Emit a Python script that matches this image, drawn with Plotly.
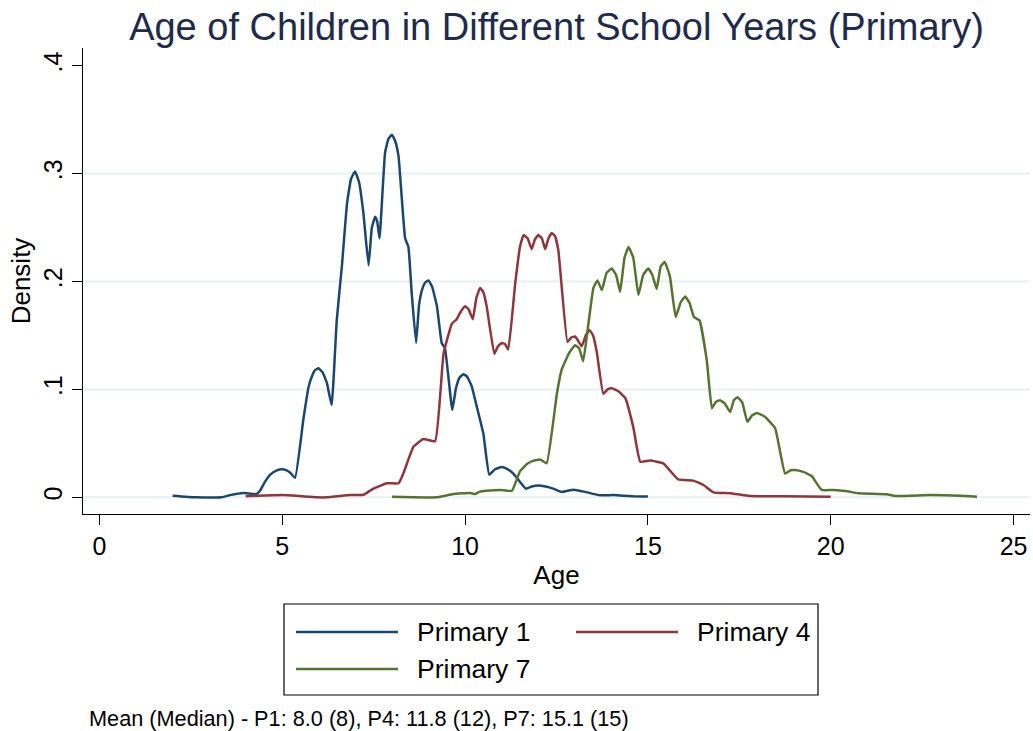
import plotly.graph_objects as go

# ---------------- data ----------------
series_names = ["Primary 1", "Primary 4", "Primary 7"]
series_colors = ["#1a476f", "#90353b", "#55752f"]

p1_age = [2.0, 2.62, 3.35, 3.57, 3.94, 4.30, 4.39, 4.53, 4.67, 4.85, 4.99, 5.12, 5.21, 5.35,
          5.58, 5.72, 5.81, 5.90, 5.99, 6.10, 6.22, 6.35, 6.49, 6.63, 6.77, 6.88, 6.99, 7.10,
          7.22, 7.36, 7.45, 7.54, 7.60, 7.66, 7.81, 7.90, 8.00, 8.09, 8.18, 8.36, 8.45, 8.54,
          8.66, 8.74, 8.82, 8.91, 9.00, 9.10, 9.23, 9.36, 9.45, 9.65, 9.75, 9.85, 9.95, 10.05,
          10.18, 10.32, 10.50, 10.66, 10.82, 11.0, 11.16, 11.32, 11.66, 11.82, 12.0, 12.2,
          12.41, 12.64, 12.96, 13.28, 13.65, 14.06, 14.6, 15.0]
p1_den = [0.0015, 0.0, 0.0, 0.002, 0.004, 0.003, 0.006, 0.0145, 0.021, 0.025, 0.026, 0.025, 0.023, 0.018,
          0.073, 0.1025, 0.112, 0.118, 0.1195, 0.116, 0.106, 0.0855, 0.164, 0.214, 0.272, 0.295, 0.302, 0.292,
          0.263, 0.215, 0.250, 0.260, 0.255, 0.240, 0.319, 0.332, 0.336, 0.330, 0.316, 0.240, 0.232, 0.189,
          0.143, 0.178, 0.192, 0.199, 0.201, 0.195, 0.177, 0.143, 0.138, 0.081, 0.101, 0.111, 0.114, 0.112,
          0.103, 0.084, 0.059, 0.021, 0.026, 0.028, 0.026, 0.022, 0.008, 0.010, 0.011, 0.010,
          0.008, 0.005, 0.007, 0.005, 0.002, 0.002, 0.001, 0.0008]

p4_age = [4.0, 5.03, 5.94, 6.22, 6.86, 7.22, 7.49, 7.86, 8.18, 8.31, 8.59, 8.86, 9.18, 9.41,
          9.64, 9.77, 9.88, 10.0, 10.1, 10.21, 10.31, 10.41, 10.50, 10.59, 10.80, 10.9, 11.0,
          11.09, 11.18, 11.37, 11.5, 11.6, 11.71, 11.82, 11.91, 12.0, 12.1, 12.19, 12.28, 12.37,
          12.46, 12.55, 12.80, 12.9, 13.01, 13.19, 13.3, 13.40, 13.50, 13.60, 13.78, 13.9, 14.01,
          14.2, 14.38, 14.6, 14.79, 15.06, 15.42, 15.83, 16.24, 16.52, 16.79, 17.25, 17.79,
          18.70, 20.0]
p4_den = [0.001, 0.002, 0.0, 0.0, 0.002, 0.0024, 0.008, 0.013, 0.013, 0.022, 0.047, 0.054, 0.052, 0.133,
          0.161, 0.165, 0.172, 0.177, 0.174, 0.165, 0.185, 0.194, 0.190, 0.177, 0.133, 0.140, 0.143,
          0.142, 0.137, 0.198, 0.232, 0.243, 0.240, 0.230, 0.239, 0.243, 0.240, 0.230, 0.240, 0.245,
          0.242, 0.229, 0.144, 0.148, 0.149, 0.140, 0.150, 0.155, 0.150, 0.135, 0.096, 0.100, 0.101,
          0.098, 0.092, 0.065, 0.033, 0.034, 0.0315, 0.0165, 0.0154, 0.0114, 0.0046, 0.0037, 0.0012,
          0.001, 0.0006]

p7_age = [8.0, 8.59, 9.23, 9.68, 10.14, 10.27, 10.39, 10.59, 10.96, 11.28, 11.5, 11.7, 11.87,
          12.05, 12.23, 12.51, 12.64, 12.85, 13.01, 13.12, 13.23, 13.37, 13.51, 13.62, 13.74,
          13.87, 14.01, 14.13, 14.24, 14.36, 14.47, 14.6, 14.74, 14.87, 15.01, 15.12, 15.24,
          15.35, 15.46, 15.6, 15.76, 15.9, 16.02, 16.14, 16.26, 16.41, 16.61, 16.75, 16.86,
          16.97, 17.1, 17.25, 17.35, 17.45, 17.58, 17.72, 17.85, 17.98, 18.2, 18.48, 18.75,
          18.9, 19.02, 19.25, 19.48, 19.75, 20.07, 20.46, 20.75, 21.53, 21.76, 22.72, 23.54, 24.0]
p7_den = [0.0006, 0.0, 0.0, 0.003, 0.004, 0.003, 0.005, 0.006, 0.0068, 0.006, 0.024, 0.031, 0.034,
          0.035, 0.0315, 0.096, 0.118, 0.134, 0.141, 0.138, 0.126, 0.160, 0.194, 0.201, 0.192,
          0.208, 0.212, 0.206, 0.1905, 0.222, 0.232, 0.222, 0.1875, 0.206, 0.212, 0.206, 0.193,
          0.214, 0.218, 0.205, 0.167, 0.181, 0.186, 0.180, 0.167, 0.164, 0.127, 0.0825, 0.0885,
          0.090, 0.087, 0.079, 0.090, 0.0927, 0.088, 0.070, 0.076, 0.078, 0.0747, 0.064, 0.022,
          0.0250, 0.0253, 0.0235, 0.0197, 0.0068, 0.0068, 0.0055, 0.0037, 0.0028, 0.0012, 0.002, 0.0015, 0.0006]

x_ticks = [0, 5, 10, 15, 20, 25]
y_ticks = [0, 0.1, 0.2, 0.3, 0.4]
y_tick_text = ["0", ".1", ".2", ".3", ".4"]
grid_values = [0, 0.1, 0.2, 0.3]

title_text = "Age of Children in Different School Years (Primary)"
note_text = "Mean (Median) - P1: 8.0 (8), P4: 11.8 (12), P7: 15.1 (15)"

# ---------------- figure ----------------
W, H = 1033, 731
ML, MR, MT, MB = 83, 3, 48, 217
PW, PH = W - ML - MR, H - MT - MB
FONT = "Liberation Sans, Arial, Helvetica, sans-serif"


def px_x(px):
    return (px - ML) / PW


def px_y(py):
    return (H - MB - py) / PH


fig = go.Figure()
for name, color, xs, ys in zip(series_names, series_colors,
                               [p1_age, p4_age, p7_age], [p1_den, p4_den, p7_den]):
    fig.add_trace(go.Scatter(x=xs, y=ys, mode="lines", name=name,
                             line=dict(color=color, width=2.5, shape="spline", smoothing=0.35),
                             showlegend=False))

shapes = []
for g in grid_values:
    shapes.append(dict(type="line", xref="paper", yref="y", x0=0, x1=1, y0=g, y1=g,
                       line=dict(color="#e9f0f3", width=2), layer="below"))

# custom legend (Stata style)
shapes.append(dict(type="rect", xref="paper", yref="paper",
                   x0=px_x(284), x1=px_x(818), y0=px_y(695), y1=px_y(604),
                   line=dict(color="black", width=1.2), fillcolor="white"))
legend_pos = [(296, 398, 415, 632), (576, 678, 695, 632), (296, 398, 415, 669)]
annotations = []
for name, color, (lx0, lx1, tx, ly) in zip(series_names, series_colors, legend_pos):
    shapes.append(dict(type="line", xref="paper", yref="paper",
                       x0=px_x(lx0), x1=px_x(lx1), y0=px_y(ly), y1=px_y(ly),
                       line=dict(color=color, width=2.5)))
    annotations.append(dict(text=name, xref="paper", yref="paper", x=px_x(tx), y=px_y(ly),
                            xanchor="left", yanchor="middle", showarrow=False,
                            font=dict(size=26.5, color="black", family=FONT)))

annotations.append(dict(text=note_text, xref="paper", yref="paper", x=px_x(87), y=px_y(718),
                        xanchor="left", yanchor="middle", showarrow=False,
                        font=dict(size=21.7, color="black", family=FONT)))

fig.update_layout(
    width=W, height=H,
    margin=dict(l=ML, r=MR, t=MT, b=MB, pad=0),
    paper_bgcolor="white", plot_bgcolor="white",
    font=dict(family=FONT, color="black"),
    title=dict(text=title_text, x=0.5, xref="paper", xanchor="center",
               y=1 - 27 / H, yref="container", yanchor="middle",
               font=dict(size=38, color="#1e2b4c", family=FONT)),
    xaxis=dict(range=[-0.45, 25.45], tickvals=x_ticks, ticks="outside", ticklen=10,
               tickwidth=1.3, tickcolor="black", showline=True, linecolor="black", linewidth=1.3,
               showgrid=False, zeroline=False, tickfont=dict(size=25, family=FONT),
               title=dict(text="Age", font=dict(size=26, family=FONT), standoff=6)),
    yaxis=dict(range=[-0.0155, 0.4164], tickvals=y_ticks, ticktext=y_tick_text,
               ticks="outside", ticklen=10, tickwidth=1.3, tickcolor="black", tickangle=-90,
               showline=True, linecolor="black", linewidth=1.3,
               showgrid=False, zeroline=False, tickfont=dict(size=25, family=FONT),
               title=dict(text="Density", font=dict(size=26, family=FONT), standoff=0)),
    shapes=shapes, annotations=annotations,
    showlegend=False,
)

fig.write_html("out.html", config={"displayModeBar": False},
               post_script="document.body.style.margin='0';document.body.style.overflow='hidden';")
